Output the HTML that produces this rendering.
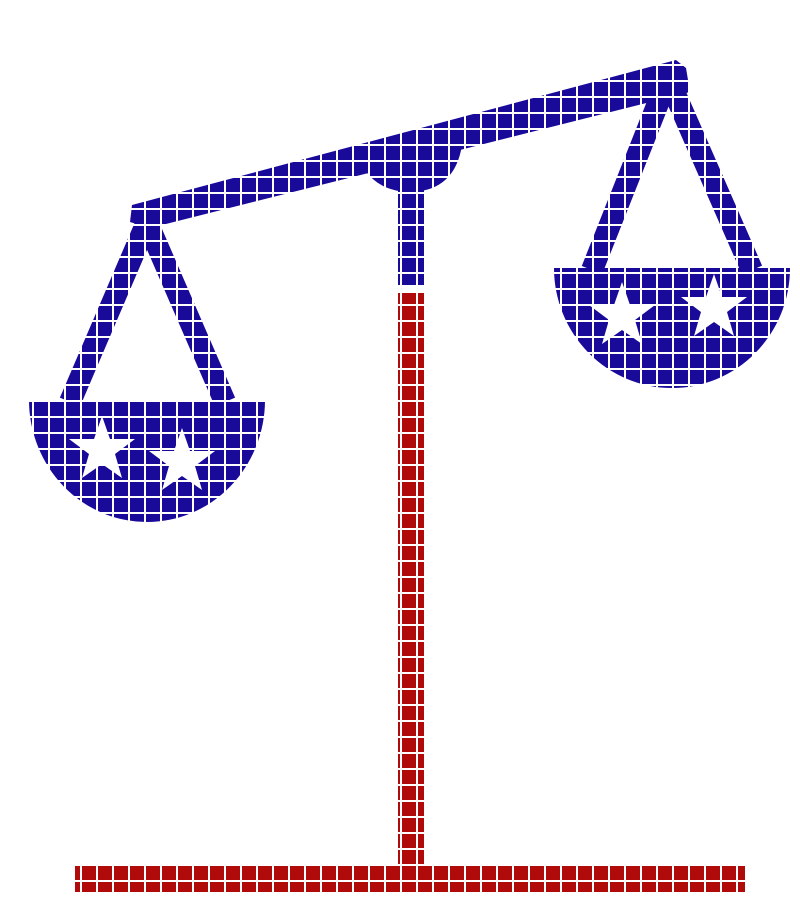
<!DOCTYPE html>
<html><head><meta charset="utf-8"><style>
html,body{margin:0;padding:0;background:#fff;}
svg{display:block;}
</style></head><body>
<svg width="800" height="924" viewBox="0 0 800 924">
  <defs>
    <pattern id="grid" width="16" height="16" patternUnits="userSpaceOnUse">
      <rect x="0" y="0" width="16" height="2" fill="#fff"/>
      <rect x="0" y="0" width="2" height="16" fill="#fff"/>
    </pattern>
  </defs>
  <g fill="#1a0a9a">
    <polygon points="132,205 676,60 686,68 690,92 150,228 130,222"/>
    <path d="M365,170 L462,145 Q455,190 412,192 Q380,192 365,170 Z"/>
    <rect x="398" y="180" width="26" height="105"/>
    <path fill="none" stroke="#1a0a9a" stroke-width="22" stroke-linejoin="round" d="M147,222 L70,402 M147,222 L225,402"/>
    <path d="M29,400 L265,400 A118,122 0 0 1 29,400 Z"/>
    <path fill="none" stroke="#1a0a9a" stroke-width="22" stroke-linejoin="round" d="M668,78 L592,270 M668,78 L752,270"/>
    <path d="M554,268 L790,268 A118,120 0 0 1 554,268 Z"/>
  </g>
  <g fill="#b00a0a">
    <rect x="398" y="293" width="26" height="572"/>
    <rect x="75" y="864" width="670" height="28"/>
  </g>
  <g fill="#fff">
    <polygon transform="translate(102,450)" points="0,-34 8,-11 33,-11 13,4 20,28 0,14 -20,28 -13,4 -33,-11 -8,-11"/>
    <polygon transform="translate(182,462)" points="0,-34 8,-11 33,-11 13,4 20,28 0,14 -20,28 -13,4 -33,-11 -8,-11"/>
    <polygon transform="translate(622,316)" points="0,-34 8,-11 33,-11 13,4 20,28 0,14 -20,28 -13,4 -33,-11 -8,-11"/>
    <polygon transform="translate(714,308)" points="0,-34 8,-11 33,-11 13,4 20,28 0,14 -20,28 -13,4 -33,-11 -8,-11"/>
  </g>
  <rect x="0" y="0" width="800" height="924" fill="url(#grid)"/>
  <rect x="396" y="285" width="30" height="8" fill="#fff"/>
</svg>
</body></html>
